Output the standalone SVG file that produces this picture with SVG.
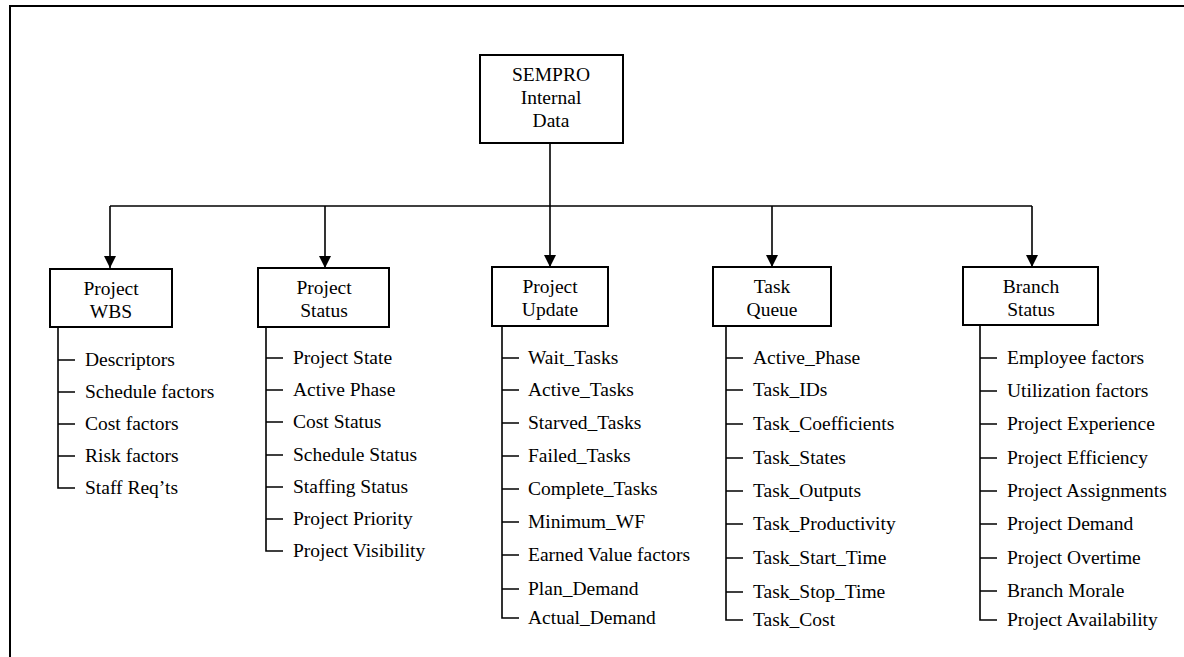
<svg xmlns="http://www.w3.org/2000/svg" width="1184" height="657" viewBox="0 0 1184 657">
  <defs>
    <marker id="arrow" viewBox="0 0 12 12" refX="12" refY="6" markerWidth="12" markerHeight="12" markerUnits="userSpaceOnUse" orient="auto">
      <path d="M0,0 L12,6 L0,12 Z" fill="#000"/>
    </marker>
  </defs>
  <style>
    .frame { fill: none; stroke: #000; stroke-width: 2; }
    .box { fill: #fff; stroke: #000; stroke-width: 2; }
    .line { fill: none; stroke: #000; stroke-width: 1.6; }
    .label { font-family: "Liberation Serif", "Times New Roman", serif; font-size: 19.5px; fill: #000; }
    .center { text-anchor: middle; }
  </style>
  <rect width="1184" height="657" fill="#fff"/>

  <!-- page frame (top and left edges) -->
  <path class="frame" d="M10,657 L10,6 L1184,6"/>

  <!-- connectors -->
  <g id="connectors">
    <path class="line" d="M550,143 L550,206"/>
    <path class="line" d="M110,206 L1032,206"/>
    <path class="line" d="M110,206 L110,268" marker-end="url(#arrow)"/>
    <path class="line" d="M325,206 L325,268" marker-end="url(#arrow)"/>
    <path class="line" d="M550,206 L550,267" marker-end="url(#arrow)"/>
    <path class="line" d="M772,206 L772,267" marker-end="url(#arrow)"/>
    <path class="line" d="M1032,206 L1032,267" marker-end="url(#arrow)"/>
  </g>

  <!-- root -->
  <g id="sempro-internal-data">
    <rect class="box" x="480" y="55" width="143" height="88"/>
    <text class="label center" x="551" y="81">SEMPRO</text>
    <text class="label center" x="551" y="104">Internal</text>
    <text class="label center" x="551" y="127">Data</text>
  </g>

  <!-- Project WBS -->
  <g id="project-wbs">
    <rect class="box" x="50" y="269" width="122" height="58"/>
    <text class="label center" x="111" y="295">Project</text>
    <text class="label center" x="111" y="318">WBS</text>
    <path class="line" d="M58,327 L58,488 L75,488 M58,360 L75,360 M58,392 L75,392 M58,424 L75,424 M58,456 L75,456"/>
    <text class="label" x="85" y="366">Descriptors</text>
    <text class="label" x="85" y="398">Schedule factors</text>
    <text class="label" x="85" y="430">Cost factors</text>
    <text class="label" x="85" y="462">Risk factors</text>
    <text class="label" x="85" y="494">Staff Req’ts</text>
  </g>

  <!-- Project Status -->
  <g id="project-status">
    <rect class="box" x="258" y="268" width="131" height="59"/>
    <text class="label center" x="324" y="294">Project</text>
    <text class="label center" x="324" y="317">Status</text>
    <path class="line" d="M266,327 L266,551 L283,551 M266,358 L283,358 M266,390 L283,390 M266,422 L283,422 M266,455 L283,455 M266,487 L283,487 M266,519 L283,519"/>
    <text class="label" x="293" y="364">Project State</text>
    <text class="label" x="293" y="396">Active Phase</text>
    <text class="label" x="293" y="428">Cost Status</text>
    <text class="label" x="293" y="461">Schedule Status</text>
    <text class="label" x="293" y="493">Staffing Status</text>
    <text class="label" x="293" y="525">Project Priority</text>
    <text class="label" x="293" y="557">Project Visibility</text>
  </g>

  <!-- Project Update -->
  <g id="project-update">
    <rect class="box" x="492" y="267" width="116" height="59"/>
    <text class="label center" x="550" y="293">Project</text>
    <text class="label center" x="550" y="316">Update</text>
    <path class="line" d="M502,326 L502,618 L519,618 M502,358 L519,358 M502,390 L519,390 M502,423 L519,423 M502,456 L519,456 M502,489 L519,489 M502,522 L519,522 M502,555 L519,555 M502,589 L519,589"/>
    <text class="label" x="528" y="364">Wait_Tasks</text>
    <text class="label" x="528" y="396">Active_Tasks</text>
    <text class="label" x="528" y="429">Starved_Tasks</text>
    <text class="label" x="528" y="462">Failed_Tasks</text>
    <text class="label" x="528" y="495">Complete_Tasks</text>
    <text class="label" x="528" y="528">Minimum_WF</text>
    <text class="label" x="528" y="561">Earned Value factors</text>
    <text class="label" x="528" y="595">Plan_Demand</text>
    <text class="label" x="528" y="624">Actual_Demand</text>
  </g>

  <!-- Task Queue -->
  <g id="task-queue">
    <rect class="box" x="713" y="267" width="118" height="59"/>
    <text class="label center" x="772" y="293">Task</text>
    <text class="label center" x="772" y="316">Queue</text>
    <path class="line" d="M726,326 L726,620 L743,620 M726,358 L743,358 M726,390 L743,390 M726,424 L743,424 M726,458 L743,458 M726,491 L743,491 M726,524 L743,524 M726,558 L743,558 M726,592 L743,592"/>
    <text class="label" x="753" y="364">Active_Phase</text>
    <text class="label" x="753" y="396">Task_IDs</text>
    <text class="label" x="753" y="430">Task_Coefficients</text>
    <text class="label" x="753" y="464">Task_States</text>
    <text class="label" x="753" y="497">Task_Outputs</text>
    <text class="label" x="753" y="530">Task_Productivity</text>
    <text class="label" x="753" y="564">Task_Start_Time</text>
    <text class="label" x="753" y="598">Task_Stop_Time</text>
    <text class="label" x="753" y="626">Task_Cost</text>
  </g>

  <!-- Branch Status -->
  <g id="branch-status">
    <rect class="box" x="963" y="267" width="135" height="58"/>
    <text class="label center" x="1031" y="293">Branch</text>
    <text class="label center" x="1031" y="316">Status</text>
    <path class="line" d="M980,325 L980,620 L997,620 M980,358 L997,358 M980,391 L997,391 M980,424 L997,424 M980,458 L997,458 M980,491 L997,491 M980,524 L997,524 M980,558 L997,558 M980,591 L997,591"/>
    <text class="label" x="1007" y="364">Employee factors</text>
    <text class="label" x="1007" y="397">Utilization factors</text>
    <text class="label" x="1007" y="430">Project Experience</text>
    <text class="label" x="1007" y="464">Project Efficiency</text>
    <text class="label" x="1007" y="497">Project Assignments</text>
    <text class="label" x="1007" y="530">Project Demand</text>
    <text class="label" x="1007" y="564">Project Overtime</text>
    <text class="label" x="1007" y="597">Branch Morale</text>
    <text class="label" x="1007" y="626">Project Availability</text>
  </g>
</svg>
